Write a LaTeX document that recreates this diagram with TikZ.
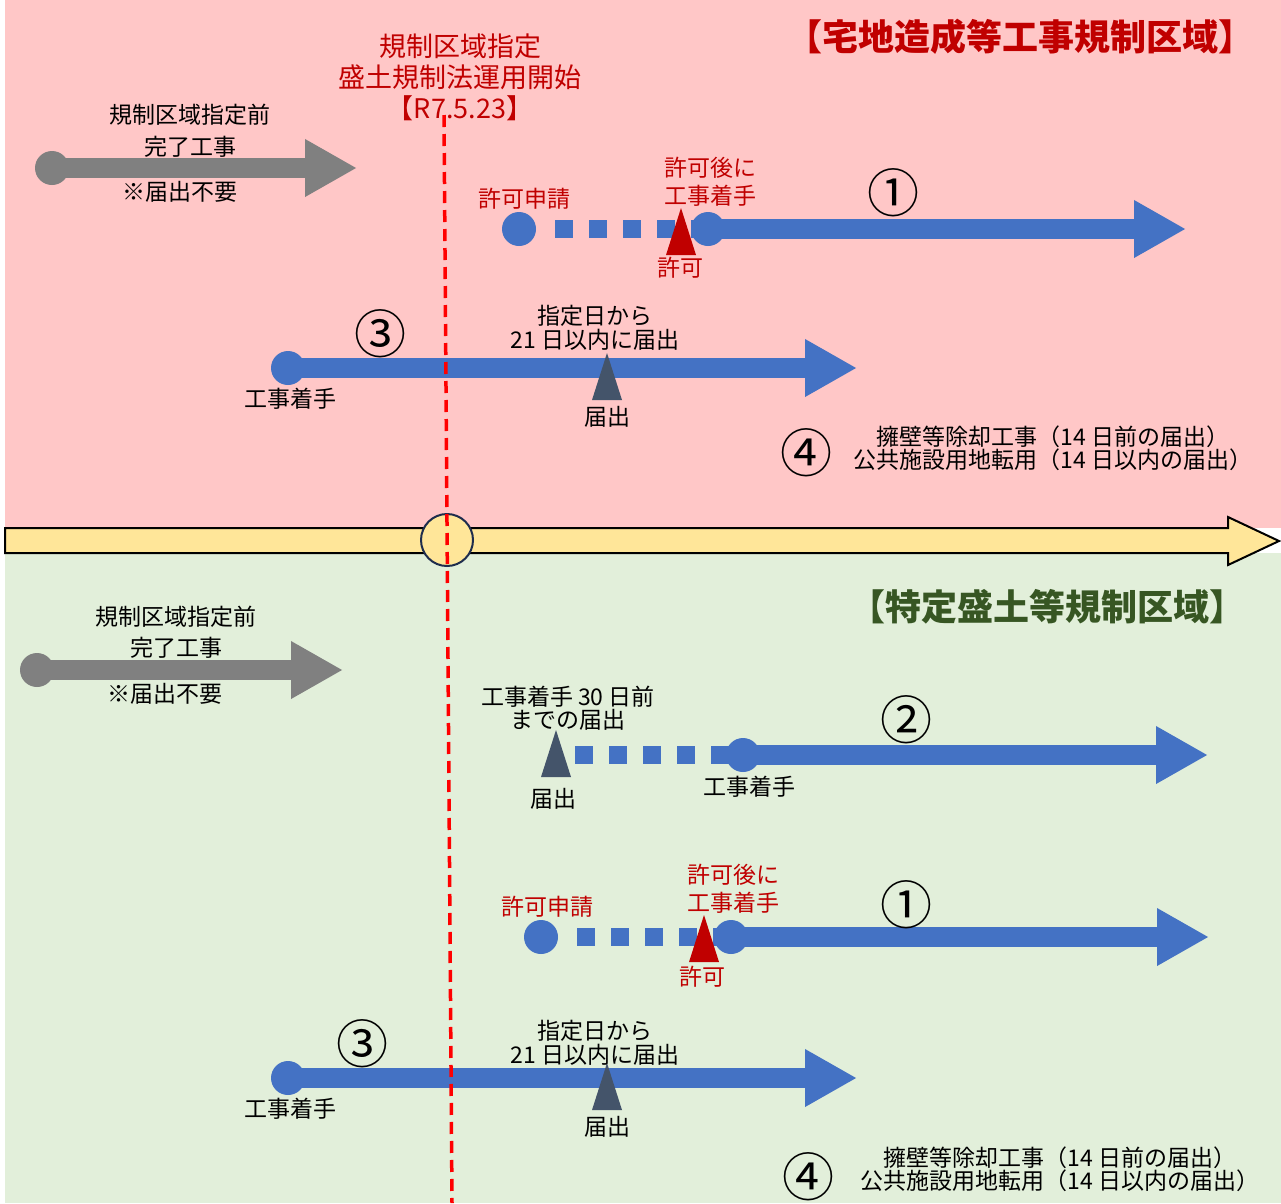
\documentclass[tikz,border=0pt]{standalone}
\usepackage{fontspec}
\setmainfont{Noto Sans CJK JP}
\usetikzlibrary{positioning,arrows.meta}

\definecolor{zonepink}{RGB}{255,199,199}
\definecolor{zonegreen}{RGB}{226,239,218}
\definecolor{lineyellow}{RGB}{255,230,153}
\definecolor{linenavy}{RGB}{31,45,77}
\definecolor{flowblue}{RGB}{68,114,196}
\definecolor{permitred}{RGB}{192,0,0}
\definecolor{noticegray}{RGB}{68,84,106}
\definecolor{donegray}{RGB}{128,128,128}
\definecolor{titlegreen}{RGB}{55,86,35}
\definecolor{markred}{RGB}{255,0,0}

\begin{document}
\begin{tikzpicture}[x=1pt, y=-1pt,
    lbl/.style = {font=\fontsize{23}{24}\selectfont, align=center, inner sep=0},
    redlbl/.style = {lbl, text=permitred},
    title/.style = {font=\fontsize{36}{38}\selectfont\bfseries, inner sep=0},
    num/.style = {font=\fontsize{52}{52}\selectfont, inner sep=0},
    dot/.style = {circle, fill=#1, minimum size=34pt, inner sep=0},
    bar/.style = {draw=#1, line width=20pt, -{Triangle[length=52pt,width=54pt]}},
    dotbar/.style = {draw=flowblue, line width=18pt, dash pattern=on 18pt off 16pt},
    notice/.pic = {\path[pic actions] (-15,0) -- (15,0) -- (0,-47) -- cycle;}]
  \useasboundingbox (0,0) rectangle (1281,1203);
  \fill[zonepink] (5,0) rectangle (1281,528);
  \fill[zonegreen] (5,553) rectangle (1281,1203);
  \draw[fill=lineyellow, line width=2pt] (5,528) -- (1228,528) -- (1228,517) -- (1279,541)
    -- (1228,565) -- (1228,553) -- (5,553) -- cycle;
  \node[circle, draw=linenavy, fill=lineyellow, line width=2pt, minimum size=52pt] (day) at (447,540) {};

  % upper zone
  \node[title, text=permitred] (zoneA) at (1020,37) {【宅地造成等工事規制区域】};
  \node[redlbl, font=\fontsize{27}{31}\selectfont] (start) at (460,77) {規制区域指定\\盛土規制法運用開始\\【R7.5.23】};

  \node[dot=donegray, minimum size=34pt] (oldA) at (52,168) {};
  \coordinate (oldAend) at (357,168);
  \draw[bar=donegray] (oldA.center) -- (oldAend);
  \node[lbl] (oldAtop) at (190,115) {規制区域指定前};
  \node[lbl] (oldAmid) at (190,147) {完了工事};
  \node[lbl] (oldAbot) at (180,192) {※届出不要};

  \node[dot=flowblue] (reqA) at (519,229) {};
  \node[dot=flowblue] (workA) at (708,229) {};
  \coordinate (oneAend) at (1186,229);
  \draw[dotbar] ([xshift=36pt]reqA.center) -- (workA.center);
  \draw[bar=flowblue] (workA.center) -- (oneAend);
  \pic[fill=permitred] at (681,255) {notice};
  \node[redlbl] (reqAlbl) at (524,199) {許可申請};
  \node[redlbl, font=\fontsize{23}{28}\selectfont] (workAlbl) at (710,182) {許可後に\\工事着手};
  \node[redlbl] (permA) at (680,268) {許可};
  \node[num] (oneA) at (893,193) {①};

  \node[dot=flowblue] (threeAstart) at (288,368) {};
  \coordinate (threeAend) at (857,368);
  \draw[bar=flowblue] (threeAstart.center) -- (threeAend);
  \pic[fill=noticegray] at (607,400) {notice};
  \node[num] (threeA) at (380,334) {③};
  \node[lbl] (threeAlbl) at (290,399) {工事着手};
  \node[lbl] (repA) at (607,417) {届出};
  \node[lbl] (daysA) at (595,328) {指定日から\\21 日以内に届出};

  \node[num] (fourA) at (806,453) {④};
  \node[lbl, font=\fontsize{23}{23}\selectfont] (fourAlbl) at (1053,448)
    {擁壁等除却工事（14 日前の届出）\\公共施設用地転用（14 日以内の届出）};

  % lower zone
  \node[title, text=titlegreen] (zoneB) at (1047,607) {【特定盛土等規制区域】};

  \node[dot=donegray] (oldB) at (37,670) {};
  \coordinate (oldBend) at (343,670);
  \draw[bar=donegray] (oldB.center) -- (oldBend);
  \node[lbl] (oldBtop) at (176,617) {規制区域指定前};
  \node[lbl] (oldBmid) at (176,648) {完了工事};
  \node[lbl] (oldBbot) at (165,694) {※届出不要};

  \coordinate (repTwo) at (556,755);
  \node[dot=flowblue] (workTwo) at (743,755) {};
  \coordinate (twoend) at (1208,755);
  \draw[dotbar] ([xshift=19pt]repTwo) -- (workTwo.center);
  \draw[bar=flowblue] (workTwo.center) -- (twoend);
  \pic[fill=noticegray] at (556,777) {notice};
  \node[lbl, font=\fontsize{23}{23}\selectfont] (twoLbl) at (568,708) {工事着手 30 日前\\までの届出};
  \node[lbl] (repTwoLbl) at (553,799) {届出};
  \node[lbl] (workTwoLbl) at (749,787) {工事着手};
  \node[num] (two) at (906,720) {②};

  \node[dot=flowblue] (reqB) at (541,937) {};
  \node[dot=flowblue] (workB) at (731,937) {};
  \coordinate (oneBend) at (1209,937);
  \draw[dotbar] ([xshift=36pt]reqB.center) -- (workB.center);
  \draw[bar=flowblue] (workB.center) -- (oneBend);
  \pic[fill=permitred] at (704,962) {notice};
  \node[redlbl] (reqBlbl) at (547,907) {許可申請};
  \node[redlbl, font=\fontsize{23}{28}\selectfont] (workBlbl) at (733,889) {許可後に\\工事着手};
  \node[redlbl] (permB) at (702,977) {許可};
  \node[num] (oneB) at (906,905) {①};

  \node[dot=flowblue] (threeBstart) at (288,1078) {};
  \coordinate (threeBend) at (857,1078);
  \draw[bar=flowblue] (threeBstart.center) -- (threeBend);
  \pic[fill=noticegray] at (607,1110) {notice};
  \node[num] (threeB) at (362,1044) {③};
  \node[lbl] (threeBlbl) at (290,1109) {工事着手};
  \node[lbl] (repB) at (607,1127) {届出};
  \node[lbl] (daysB) at (595,1043) {指定日から\\21 日以内に届出};

  \node[num] (fourB) at (808,1177) {④};
  \node[lbl, font=\fontsize{23}{23}\selectfont] (fourBlbl) at (1060,1169)
    {擁壁等除却工事（14 日前の届出）\\公共施設用地転用（14 日以内の届出）};

  \coordinate (lawtop) at (444,115);
  \coordinate (lawbot) at (452,1203);
  \draw[markred, line width=3.5pt, dash pattern=on 12pt off 7pt] (lawtop) -- (lawbot);
\end{tikzpicture}
\end{document}
